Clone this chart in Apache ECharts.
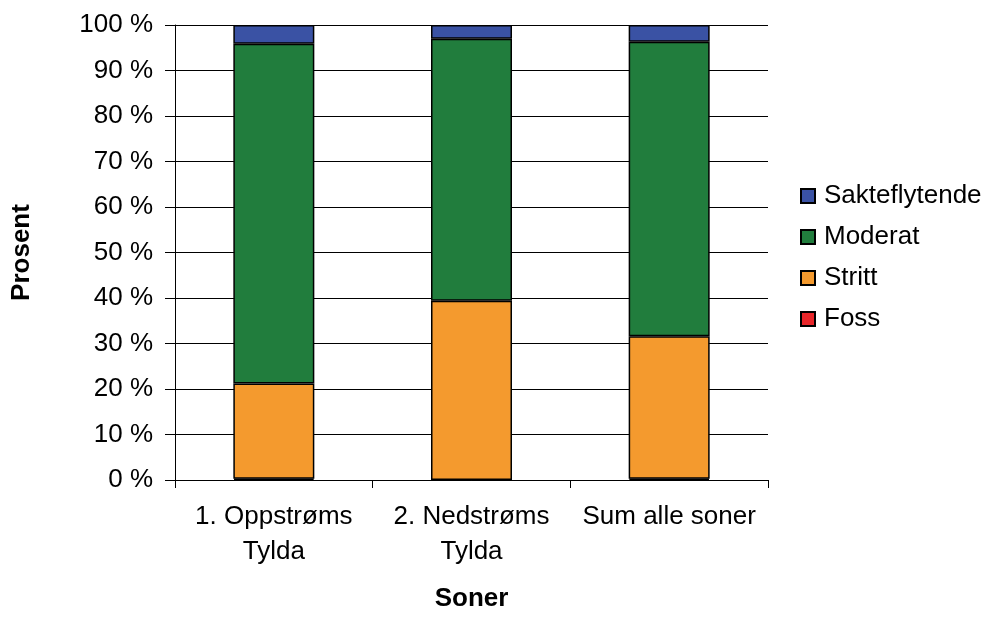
<!DOCTYPE html>
<html>
<head>
<meta charset="utf-8">
<script src="https://cdn.jsdelivr.net/npm/echarts@6/dist/echarts.min.js"></script>
<style>
  html, body { margin: 0; padding: 0; background: #fff; overflow: hidden; }
  #chart { width: 984px; height: 617px; }
</style>
</head>
<body>
<div id="chart"></div>
<script>
// Zones along the river
const categories = ['1. Oppstrøms\nTylda', '2. Nedstrøms\nTylda', 'Sum alle soner'];

// Share of each current type per zone (percent)
const foss = [0.3, 0.0, 0.3];
const stritt = [20.9, 39.4, 31.3];
const moderat = [74.7, 57.6, 64.7];
const sakteflytende = [4.1, 3.0, 3.7];

const yTicks = [0, 10, 20, 30, 40, 50, 60, 70, 80, 90, 100];

const font = 'Liberation Sans, Arial, sans-serif';
const border = { borderColor: '#000', borderWidth: 1.5 };

function barSeries(name, data, color) {
  return {
    name: name,
    type: 'bar',
    stack: 'total',
    barWidth: 81,
    data: data,
    itemStyle: Object.assign({ color: color }, border)
  };
}

const chart = echarts.init(document.getElementById('chart'));
chart.setOption({
  animation: false,
  backgroundColor: '#fff',
  textStyle: { fontFamily: font },
  grid: { left: 175, top: 25, width: 593, height: 462 },
  legend: {
    orient: 'vertical',
    left: 795,
    top: 178,
    itemWidth: 14,
    itemHeight: 14,
    itemGap: 15,
    icon: 'rect',
    data: ['Sakteflytende', 'Moderat', 'Stritt', 'Foss'],
    textStyle: { fontSize: 26, color: '#000', fontFamily: font, padding: [0, 0, 0, 4] }
  },
  xAxis: {
    type: 'category',
    data: categories,
    name: 'Soner',
    nameLocation: 'middle',
    nameGap: 106,
    nameTextStyle: { fontSize: 26, fontWeight: 'bold', color: '#000', fontFamily: font },
    axisLine: { lineStyle: { color: '#000', width: 1 } },
    axisTick: { show: true, length: 8, lineStyle: { color: '#000' } },
    axisLabel: { interval: 0, fontSize: 26, color: '#000', margin: 19, lineHeight: 35, fontFamily: font }
  },
  yAxis: {
    type: 'value',
    min: yTicks[0],
    max: yTicks[yTicks.length - 1],
    interval: 10,
    name: 'Prosent',
    nameLocation: 'middle',
    nameGap: 140,
    nameTextStyle: { fontSize: 26, fontWeight: 'bold', color: '#000', fontFamily: font },
    axisLine: { show: true, lineStyle: { color: '#000', width: 1 } },
    axisTick: { show: true, length: 10, lineStyle: { color: '#000' } },
    axisLabel: { fontSize: 26, color: '#000', margin: 22, formatter: v => v + ' %', fontFamily: font },
    splitLine: { show: true, lineStyle: { color: '#000', width: 1 } }
  },
  series: [
    barSeries('Foss', foss, '#E8262A'),
    barSeries('Stritt', stritt, '#F49A2E'),
    barSeries('Moderat', moderat, '#217D3D'),
    barSeries('Sakteflytende', sakteflytende, '#3A52A4')
  ]
});
</script>
</body>
</html>
